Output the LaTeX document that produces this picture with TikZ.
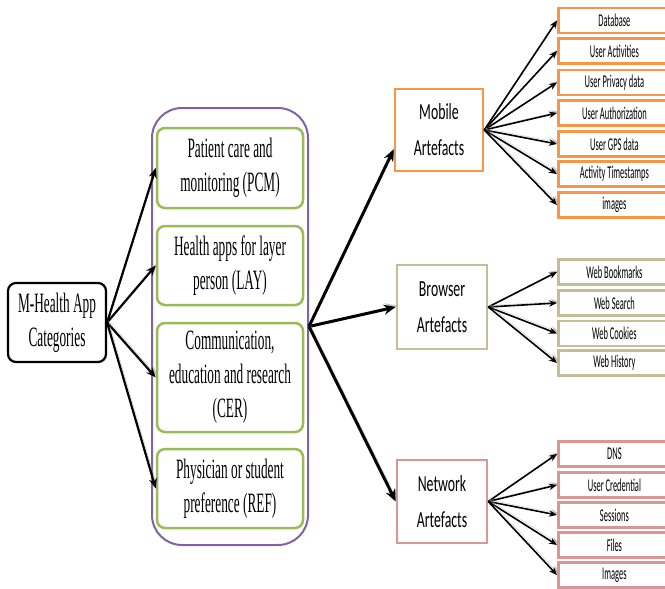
\documentclass[tikz,border=0pt]{standalone}
\usepackage{fontspec}
\newfontfamily\serifcond[FakeStretch=0.475]{Liberation Serif}
\newfontfamily\sanscond[FakeStretch=0.6]{Carlito}
\newfontfamily\leafcond[FakeStretch=0.47]{Carlito}
\usetikzlibrary{arrows.meta,calc}
\definecolor{cpurple}{HTML}{8064A2}
\definecolor{cgreen}{HTML}{9BBB59}
\definecolor{corange}{HTML}{F79646}
\definecolor{ctan}{HTML}{C4BD97}
\definecolor{cred}{HTML}{D99694}
\tikzset{
  rootbox/.style={draw=black, line width=2.2pt, rounded corners=8pt, inner sep=0pt,
    minimum width=98pt, minimum height=79pt, align=center,
    font=\serifcond\fontsize{28}{34}\selectfont},
  contbox/.style={draw=cpurple, line width=2pt, rounded corners=30pt, inner sep=0pt,
    minimum width=156pt, minimum height=437pt},
  catbox/.style={draw=cgreen, line width=2.5pt, rounded corners=8pt, inner sep=0pt,
    minimum width=146pt, align=center, fill=white,
    font=\serifcond\fontsize{28}{34}\selectfont},
  artbox/.style={line width=2.5pt, inner sep=0pt, align=center, fill=white,
    font=\sanscond\fontsize{23}{36}\selectfont},
  leafbox/.style={line width=2.8pt, inner sep=0pt, anchor=west,
    minimum width=112pt, minimum height=25pt, fill=white,
    font=\leafcond\fontsize{18}{20}\selectfont},
  shad/.style={preaction={draw=black!35, opacity=0.6, transform canvas={shift={(1.5pt,1.5pt)}}}},
  arrA/.style={shad, line width=2.2pt, -{Stealth[length=10pt,width=8pt]}},
  arrB/.style={shad, line width=3pt, -{Stealth[length=12pt,width=10pt]}},
  arrC/.style={shad, line width=1.6pt, -{Stealth[length=8pt,width=6.5pt]}},
}
\begin{document}
\begin{tikzpicture}[x=1pt,y=-1pt]
\useasboundingbox (0,0) rectangle (665,589);
% root
\node[rootbox] (root) at (57,322.5) {M-Health App\\Categories};
% container
\node[contbox] (cont) at (230,326.5) {};
\node[catbox, minimum height=80pt] (pcm) at (230,168) {Patient care and\\monitoring (PCM)};
\node[catbox, minimum height=79pt] (lay) at (230,265.5) {Health apps for layer\\person (LAY)};
\node[catbox, minimum height=109pt] (cer) at (230,377.5) {Communication,\\education and research\\(CER)};
\node[catbox, minimum height=79pt] (ref) at (230,488.5) {Physician or student\\preference (REF)};
% artefacts
\node[artbox, draw=corange, minimum width=88pt, minimum height=82pt] (mob) at (439,130) {Mobile\\Artefacts};
\node[artbox, draw=ctan, minimum width=90pt, minimum height=84pt] (bro) at (442,307) {Browser\\Artefacts};
\node[artbox, draw=cred, minimum width=90pt, minimum height=83pt] (net) at (442,501.5) {Network\\Artefacts};
% mobile leaves
\node[leafbox, draw=corange] (m1) at (557,20.5) {Database};
\node[leafbox, draw=corange] (m2) at (557,51) {User Activities};
\node[leafbox, draw=corange] (m3) at (557,82.5) {User Privacy data};
\node[leafbox, draw=corange] (m4) at (557,113) {User Authorization};
\node[leafbox, draw=corange] (m5) at (557,144) {User GPS data};
\node[leafbox, draw=corange] (m6) at (557,174) {Activity Timestamps};
\node[leafbox, draw=corange] (m7) at (557,205) {images};
% browser leaves
\node[leafbox, draw=ctan] (b1) at (557,272) {Web Bookmarks};
\node[leafbox, draw=ctan] (b2) at (557,303) {Web Search};
\node[leafbox, draw=ctan] (b3) at (557,333.5) {Web Cookies};
\node[leafbox, draw=ctan] (b4) at (557,363) {Web History};
% network leaves
\node[leafbox, draw=cred] (n1) at (557,454) {DNS};
\node[leafbox, draw=cred] (n2) at (557,485) {User Credential};
\node[leafbox, draw=cred] (n3) at (557,515) {Sessions};
\node[leafbox, draw=cred] (n4) at (557,545) {Files};
\node[leafbox, draw=cred] (n5) at (557,575) {Images};
% arrows root -> categories
\foreach \t in {pcm,lay,cer,ref} \draw[arrA] (root.east) -- (\t.west);
% container -> artefacts
\draw[arrB] (cont.east) -- ([yshift=23pt]mob.south west);
\draw[arrB] (cont.east) -- (bro.west);
\draw[arrB] (cont.east) -- (net.west);
% artefacts -> leaves
\foreach \t in {m1,m2,m3,m4,m5,m6,m7} \draw[arrC] (mob.east) -- (\t.west);
\foreach \t in {b1,b2,b3,b4} \draw[arrC] (bro.east) -- (\t.west);
\foreach \t in {n1,n2,n3,n4,n5} \draw[arrC] (net.east) -- (\t.west);
\end{tikzpicture}
\end{document}
